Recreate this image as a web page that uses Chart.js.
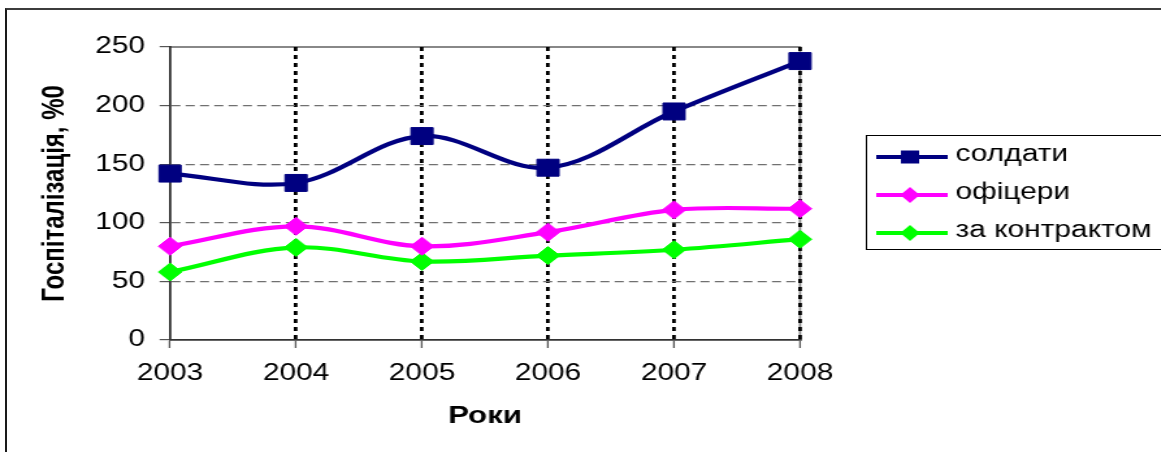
<!DOCTYPE html>
<html><head><meta charset="utf-8">
<script src="https://cdn.jsdelivr.net/npm/chart.js@4"></script>
<style>
html,body{margin:0;padding:0;background:#fff;overflow:hidden;width:1161px;height:452px;}
#frame{position:absolute;left:5px;top:8px;width:1200px;height:500px;border-top:2px solid #3c3c3c;border-left:2px solid #1a1a1a;}
#wrap{position:absolute;left:0;top:0;width:893px;height:452px;transform:scaleX(1.3);transform-origin:0 0;}
</style></head><body>
<div id="frame"></div>
<div id="wrap"><canvas id="c" width="893" height="452"></canvas></div>
<script>
const years = ['2003','2004','2005','2006','2007','2008'];
const soldiers = [142, 134, 174, 147, 195, 238];
const officers = [80, 97, 80, 92, 111, 112];
const contract = [58, 79, 67, 72, 77, 86];
const seriesNames = ['солдати', 'офіцери', 'за контрактом'];
const yMin = 0, yMax = 250, yStep = 50;
const yTitle = 'Госпіталізація, %0';
const xTitle = 'Роки';

const FONT = '"Liberation Sans", Arial, sans-serif';

const borderPlugin = {
  id: 'plotBorder',
  beforeDraw(chart) {
    const {ctx, chartArea: a} = chart;
    ctx.save();
    ctx.strokeStyle = '#888';
    ctx.lineWidth = 1.8;
    ctx.beginPath();
    ctx.moveTo(a.left, a.top);
    ctx.lineTo(a.right, a.top);
    ctx.lineTo(a.right, a.bottom);
    ctx.stroke();
    ctx.restore();
  }
};

const legendPlugin = {
  id: 'boxLegend',
  afterDraw(chart) {
    const ctx = chart.ctx;
    const x0 = 666, y0 = 135, y1 = 249;
    ctx.save();
    ctx.strokeStyle = '#000';
    ctx.lineWidth = 1;
    ctx.strokeRect(x0 + 0.5, y0 + 0.5, chart.width - x0 + 10, y1 - y0);
    const rows = [157, 195, 233];
    chart.data.datasets.forEach((ds, i) => {
      const y = rows[i];
      ctx.strokeStyle = ds.borderColor;
      ctx.lineWidth = 4;
      ctx.beginPath(); ctx.moveTo(674, y); ctx.lineTo(729, y); ctx.stroke();
      ctx.fillStyle = ds.backgroundColor;
      if (ds.pointStyle === 'rect') {
        ctx.fillRect(700 - 7, y - 6.5, 14, 13);
      } else {
        ctx.beginPath();
        ctx.moveTo(700 - 7.5, y); ctx.lineTo(700, y - 8);
        ctx.lineTo(700 + 7.5, y); ctx.lineTo(700, y + 8);
        ctx.closePath(); ctx.fill();
      }
      ctx.fillStyle = '#000';
      ctx.font = '23px ' + FONT;
      ctx.textBaseline = 'middle';
      ctx.textAlign = 'left';
      ctx.fillText(ds.label, 735, y - 2);
    });
    ctx.restore();
  }
};

const seriesColors = ['#000080', '#FF00FF', '#00FF00'];
const seriesData = [soldiers, officers, contract];
const styles = ['rect', 'rectRot', 'rectRot'];
const radii = [12, 9, 9];

new Chart(document.getElementById('c'), {
  type: 'line',
  data: {
    labels: years,
    datasets: seriesData.map((d, i) => ({
      label: seriesNames[i],
      data: d,
      borderColor: seriesColors[i],
      backgroundColor: seriesColors[i],
      pointBackgroundColor: seriesColors[i],
      pointBorderColor: seriesColors[i],
      pointBorderWidth: 1,
      pointStyle: styles[i],
      pointRadius: radii[i],
      borderWidth: 4.2,
      tension: 0.35,
      clip: false,
      fill: false
    }))
  },
  options: {
    responsive: false,
    animation: false,
    events: [],
    layout: {padding: {left: 28, right: 277.6, top: 47, bottom: 0}},
    plugins: {legend: {display: false}, tooltip: {enabled: false}},
    scales: {
      x: {
        type: 'category',
        offset: false,
        afterFit(s) { s.height = 112; },
        grid: {
          color: c => (c.index === 0 ? 'rgba(0,0,0,0)' : '#000'),
          lineWidth: 2.8,
          tickColor: '#555',
          tickWidth: 1.3,
          tickLength: 8,
          tickBorderDash: [],
          drawTicks: true
        },
        border: {display: true, color: '#333', width: 1.8, dash: [4, 4]},
        ticks: {color: '#000', font: {family: FONT, size: 23, lineHeight: 1.2}, padding: 12, maxRotation: 0, autoSkip: false},
        title: {display: true, text: xTitle, color: '#000', font: {family: FONT, size: 24, weight: 'bold', lineHeight: 1.2}, padding: {top: 0, bottom: 21.6}}
      },
      y: {
        min: yMin, max: yMax,
        afterFit(s) { s.width = 102.8; },
        grid: {
          color: c => (c.tick && (c.tick.value === yMin || c.tick.value === yMax) ? 'rgba(0,0,0,0)' : '#707070'),
          lineWidth: 1.2,
          tickColor: '#555',
          tickWidth: 1.2,
          tickLength: 8,
          tickBorderDash: [],
          drawTicks: true
        },
        border: {display: true, color: '#333', width: 1.8, dash: [7, 4]},
        ticks: {stepSize: yStep, color: '#000', font: {family: FONT, size: 23, lineHeight: 1.2}, padding: 11.3},
        title: {display: true, text: yTitle, color: '#000', font: {family: FONT, size: 24, weight: 'bold', lineHeight: 1.2}, padding: {top: 0, bottom: 0}}
      }
    }
  },
  plugins: [borderPlugin, legendPlugin]
});
</script>
</body></html>
